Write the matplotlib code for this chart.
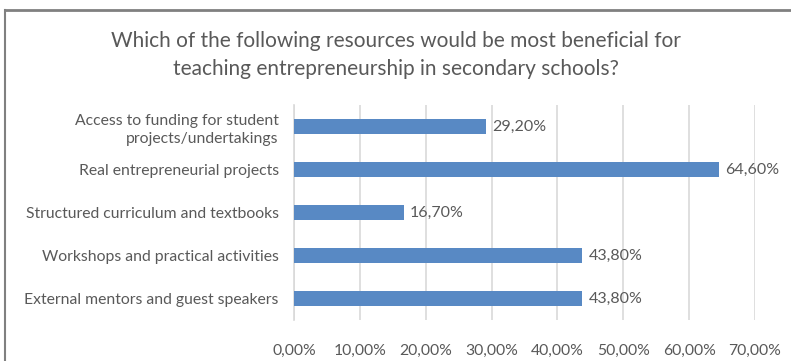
import matplotlib.pyplot as plt
from matplotlib.lines import Line2D
from matplotlib.ticker import FuncFormatter

categories = [
    "External mentors and guest speakers",
    "Workshops and practical activities",
    "Structured curriculum and textbooks",
    "Real entrepreneurial projects",
    "Access to funding for student\nprojects/undertakings",
]
values = [43.8, 43.8, 16.7, 64.6, 29.2]
title = "Which of the following resources would be most beneficial for\nteaching entrepreneurship in secondary schools?"

plt.rcParams['font.family'] = ['Lato', 'DejaVu Sans']
text_col = "#595959"
bar_col = "#5889C4"

fig = plt.figure(figsize=(7.91, 3.61), dpi=100)
ax = fig.add_axes([294 / 791, 1 - 320 / 361, (755 - 294) / 791, 215 / 361])

ypos = list(range(len(categories)))
ax.barh(ypos, values, height=0.35, color=bar_col, zorder=3)
for y, v in zip(ypos, values):
    ax.text(v + 0.9, y, f"{v:.2f}%".replace(".", ","), va="center", ha="left",
            fontsize=11.5, color=text_col)

ax.set_xlim(0, 70)
ax.set_ylim(-0.5, 4.5)
ax.set_xticks(range(0, 71, 10))
ax.xaxis.set_major_formatter(FuncFormatter(lambda x, p: f"{x:.2f}%".replace(".", ",")))
ax.set_yticks(ypos)
ax.set_yticklabels(categories, fontsize=11.3, color=text_col, linespacing=1.4)
ax.tick_params(axis="x", labelsize=11.3, labelcolor=text_col, length=0, pad=17)
ax.tick_params(axis="y", length=0, pad=11)
ax.grid(axis="x", color="#D9D9D9", linewidth=1.2, zorder=0)
for s in ["top", "right", "bottom"]:
    ax.spines[s].set_visible(False)
ax.spines["left"].set_color("#D9D9D9")
ax.spines["left"].set_linewidth(1.2)

fig.text(0.5 + 0.0, 1 - 55 / 361, title, ha="center", va="center", fontsize=15,
         color=text_col, linespacing=1.45)

# chart frame (top and left edges visible in the crop)
fig.add_artist(Line2D([5 / 791, 1], [1 - 10 / 361, 1 - 10 / 361], color="#808080", lw=2,
                      transform=fig.transFigure))
fig.add_artist(Line2D([5 / 791, 5 / 791], [0, 1 - 10 / 361], color="#808080", lw=1.5,
                      transform=fig.transFigure))

fig.savefig("out.png", dpi=100)
